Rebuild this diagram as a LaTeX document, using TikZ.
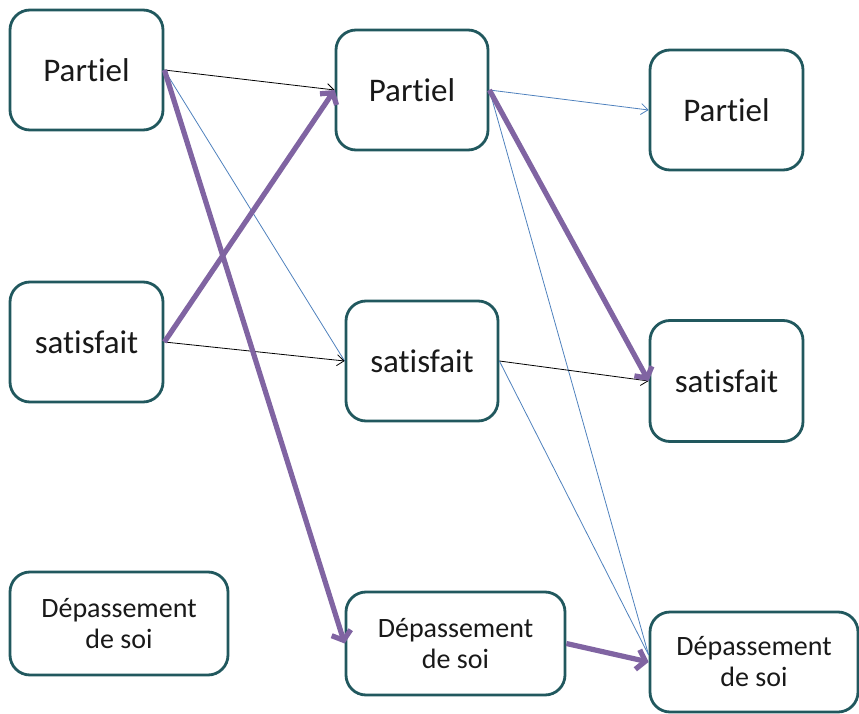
\documentclass[tikz,border=0pt]{standalone}
\usepackage{fontspec}
\setmainfont{Carlito}[Ligatures=NoCommon]
\usetikzlibrary{arrows.meta}
\definecolor{bord}{RGB}{33,88,94}
\definecolor{violet}{RGB}{128,100,162}
\definecolor{bleu}{RGB}{79,129,189}
\tikzset{
  etat/.style={draw=bord, line width=2.8pt, fill=white, rounded corners=20pt,
    inner sep=0pt, align=center, text=black!90},
  grand/.style={etat, font=\fontsize{33}{38}\selectfont},
  petit/.style={etat, font=\fontsize{28}{31}\selectfont},
  fin/.style={line width=0.8pt, -{Straight Barb[length=7pt,width=11pt]}},
  fort/.style={violet, line width=5.2pt, -{Straight Barb[length=8pt,width=20pt]}},
}
\begin{document}
\begin{tikzpicture}[x=1pt, y=-1pt]
    \useasboundingbox (0,0) rectangle (859,714);

    % Colonne de gauche
    \node[grand, minimum width=153pt, minimum height=120pt] (p1) at (86.5,70) {Partiel};
    \node[grand, minimum width=153pt, minimum height=120pt] (s1) at (86.5,342) {satisfait};
    \node[petit, minimum width=218pt, minimum height=103pt] (d1) at (119,623.5) {Dépassement\\de soi};

    % Colonne du milieu
    \node[grand, minimum width=152pt, minimum height=120pt] (p2) at (412,90) {Partiel};
    \node[grand, minimum width=152pt, minimum height=120pt] (s2) at (422,361) {satisfait};
    \node[petit, minimum width=219pt, minimum height=103pt] (d2) at (455.5,643.5) {Dépassement\\de soi};

    % Colonne de droite
    \node[grand, minimum width=153pt, minimum height=120pt] (p3) at (726.5,110) {Partiel};
    \node[grand, minimum width=153pt, minimum height=121pt] (s3) at (726.5,381) {satisfait};
    \node[petit, minimum width=208pt, minimum height=100pt] (d3) at (754,662) {Dépassement\\de soi};

    % Transitions fines
    \draw[fin, black] (p1.east) -- (p2.west);
    \draw[bleu, line width=0.8pt] (p1.east) -- (s2.west);
    \draw[fin, black] (s1.east) -- (s2.west);
    \draw[fin, bleu] (p2.east) -- (p3.west);
    \draw[bleu, line width=0.8pt] (p2.east) -- ([yshift=7pt]d3.west);
    \draw[fin, black] (s2.east) -- (s3.west);
    \draw[bleu, line width=0.8pt] (s2.east) -- ([yshift=7pt]d3.west);

    % Transitions en violet
    \draw[fort] (p1.east) -- (d2.west);
    \draw[fort] (s1.east) -- (p2.west);
    \draw[fort] (p2.east) -- (s3.west);
    \draw[fort] (d2.east) -- (d3.west);
\end{tikzpicture}
\end{document}
